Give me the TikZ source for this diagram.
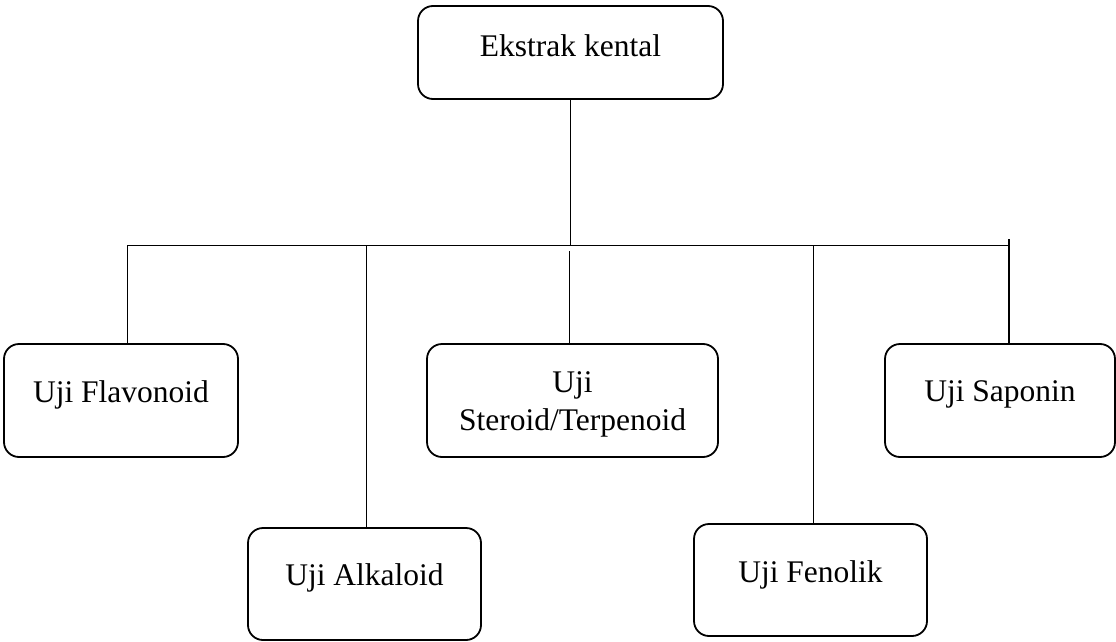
\documentclass[tikz,border=0pt]{standalone}
\usepackage{fontspec}
\setmainfont{Liberation Serif}
\begin{document}
\begin{tikzpicture}[x=1pt,y=-1pt,
  box/.style={draw, line width=1.8pt, rounded corners=15pt, inner sep=0pt},
  lbl/.style={font=\fontsize{31.5}{38}\selectfont, align=center, inner sep=0pt},
  conn/.style={line width=1pt},
  busline/.style={line width=1.4pt}]
\useasboundingbox (0,0) rectangle (1116,642);
\node[box, minimum width=305pt, minimum height=93pt,
  label={[lbl, yshift=7pt]center:Ekstrak kental}] (top) at (570.5,52.5) {};
\node[box, minimum width=234pt, minimum height=113pt,
  label={[lbl, yshift=6pt]center:Uji Flavonoid}] (flav) at (121,400.5) {};
\node[box, minimum width=291pt, minimum height=113pt,
  label={[lbl, yshift=-3.5pt]center:Uji\\Steroid/Terpenoid}] (ster) at (572.5,400.5) {};
\node[box, minimum width=230pt, minimum height=113pt,
  label={[lbl, yshift=6pt]center:Uji Saponin}] (sap) at (1000,400.5) {};
\node[box, minimum width=233pt, minimum height=112pt,
  label={[lbl, yshift=6.5pt]center:Uji Alkaloid}] (alk) at (364.5,584) {};
\node[box, minimum width=233pt, minimum height=112pt,
  label={[lbl, yshift=5.5pt]center:Uji Fenolik}] (fen) at (810.5,580) {};
\coordinate (b1) at (127,245.5);
\coordinate (b2) at (366,245.5);
\coordinate (b3) at (569,251);
\coordinate (b4) at (813,245.5);
\coordinate (b5) at (1009,239);
\coordinate (bc) at (570,245.5);
\coordinate (be) at (1009,245.5);
\draw[busline] (b1) -- (be);
\draw[conn] (top.south -| bc) -- (bc);
\draw[conn] (b1) -- (b1 |- flav.north);
\draw[conn] (b2) -- (b2 |- alk.north);
\draw[conn] (b3) -- (b3 |- ster.north);
\draw[conn] (b4) -- (b4 |- fen.north);
\draw[busline] (b5) -- (b5 |- sap.north);
\end{tikzpicture}
\end{document}
